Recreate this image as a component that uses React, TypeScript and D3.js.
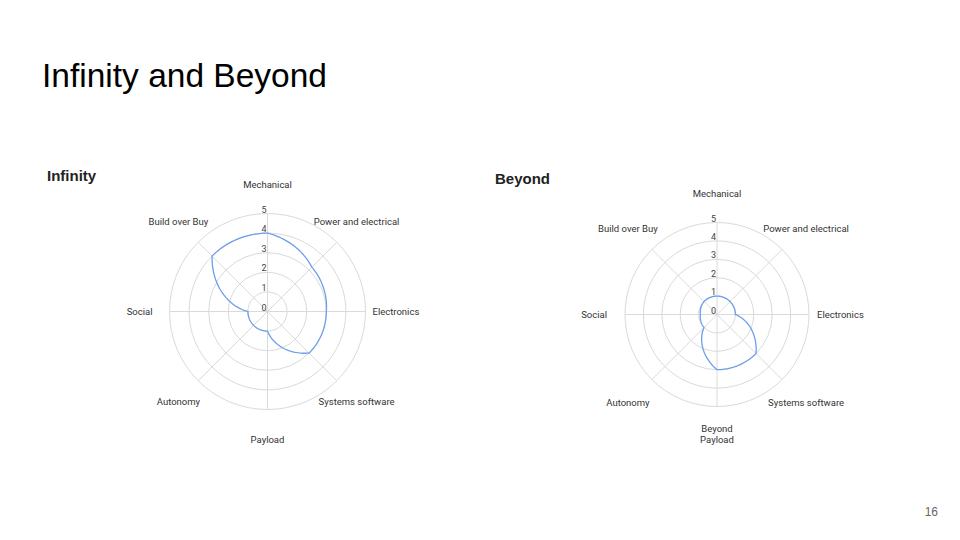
import * as d3 from "d3";
import React, { useRef, useEffect } from "react";

const W = 960;
const H = 540;

const infinityAxes = [
  "Mechanical",
  "Power and electrical",
  "Electronics",
  "Systems software",
  "Payload",
  "Autonomy",
  "Social",
  "Build over Buy",
];
const beyondAxes = [
  "Mechanical",
  "Power and electrical",
  "Electronics",
  "Systems software",
  "Beyond Payload",
  "Autonomy",
  "Social",
  "Build over Buy",
];
const infinityValues = [4, 3.2, 3, 3, 1, 1, 1, 4];
const beyondValues = [1, 1, 1, 3, 3, 1, 0.9, 1];
const ticks = [0, 1, 2, 3, 4, 5];

const FONT = "Roboto, 'Noto Sans', sans-serif";
const SANS = "Arial, 'Liberation Sans', sans-serif";

type Layout = {
  cx: number;
  cy: number;
  r: number;
  rx: number;
  ryTop: number;
  ryBottom: number;
  leftGap: number;
  rightGap: number;
};

// closed curve that joins the points in polar space (radius changes
// linearly with angle), the way the slides radar draws its lines
function curvePolarClosed(context: any) {
  let pts: [number, number][] = [];
  return {
    areaStart() {},
    areaEnd() {},
    lineStart() {
      pts = [];
    },
    point(x: number, y: number) {
      pts.push([+x, +y]);
    },
    lineEnd() {
      const n = pts.length;
      if (!n) return;
      const polar = pts.map(([x, y]) => [Math.atan2(x, -y), Math.hypot(x, y)]);
      context.moveTo(pts[0][0], pts[0][1]);
      for (let i = 0; i < n; i++) {
        const [a0, r0] = polar[i];
        const [a1, r1] = polar[(i + 1) % n];
        let da = (((a1 - a0) % (2 * Math.PI)) + 2 * Math.PI) % (2 * Math.PI);
        if (da > Math.PI) da -= 2 * Math.PI;
        const steps = 30;
        for (let s = 1; s <= steps; s++) {
          const t = s / steps;
          const a = a0 + da * t;
          const rr = r0 + (r1 - r0) * t;
          context.lineTo(rr * Math.sin(a), -rr * Math.cos(a));
        }
      }
      context.closePath();
    },
  };
}

function drawRadar(
  g: d3.Selection<SVGGElement, unknown, null, undefined>,
  axes: string[],
  values: number[],
  lay: Layout
) {
  const { cx, cy, r } = lay;
  const rScale = d3.scaleLinear().domain([0, 5]).range([0, r]);
  const angle = d3
    .scaleLinear()
    .domain([0, axes.length])
    .range([0, 2 * Math.PI]);

  const root = g.append("g").attr("transform", `translate(${cx},${cy})`);

  // rings
  root
    .selectAll("circle.ring")
    .data(ticks.slice(1))
    .enter()
    .append("circle")
    .attr("class", "ring")
    .attr("r", (d) => rScale(d))
    .attr("fill", "none")
    .attr("stroke", "#dadada")
    .attr("stroke-width", 1);

  // spokes
  root
    .selectAll("line.spoke")
    .data(axes)
    .enter()
    .append("line")
    .attr("x1", 0)
    .attr("y1", 0)
    .attr("x2", (_, i) => Math.sin(angle(i)) * r)
    .attr("y2", (_, i) => -Math.cos(angle(i)) * r)
    .attr("stroke", "#dadada")
    .attr("stroke-width", 1);

  // series line
  const line = d3
    .lineRadial<number>()
    .angle((_, i) => angle(i))
    .radius((d) => rScale(d))
    .curve(curvePolarClosed as any);

  root
    .append("path")
    .attr("d", line(values))
    .attr("fill", "none")
    .attr("stroke", "#6d9eeb")
    .attr("stroke-width", 1.3);

  // tick labels
  root
    .selectAll("text.tick")
    .data(ticks)
    .enter()
    .append("text")
    .attr("x", -3.5)
    .attr("y", (d) => -rScale(d) - 4)
    .attr("dy", "0.35em")
    .attr("text-anchor", "middle")
    .style("font-family", FONT)
    .style("font-size", "9px")
    .style("fill", "#444")
    .text((d) => d);

  // axis labels
  axes.forEach((name, i) => {
    const a = angle(i);
    const s = Math.sin(a);
    const c = Math.cos(a);
    let x = s * lay.rx;
    let y = -c * (c > 0 ? lay.ryTop : lay.ryBottom);
    let anchor = "middle";
    if (Math.abs(c) < 0.01) {
      y = 0;
      if (s > 0) {
        x = r + lay.rightGap;
        anchor = "start";
      } else {
        x = -(r + lay.leftGap);
        anchor = "end";
      }
    }
    const words = name === "Beyond Payload" ? ["Beyond", "Payload"] : [name];
    const t = root
      .append("text")
      .attr("text-anchor", anchor)
      .style("font-family", FONT)
      .style("font-size", "9.5px")
      .style("fill", "#333");
    words.forEach((w, k) => {
      t.append("tspan")
        .attr("x", x)
        .attr("y", y + (k - (words.length - 1)) * 11)
        .attr("dy", "0.35em")
        .text(w);
    });
  });
}

function App() {
  const ref = useRef<SVGSVGElement>(null);

  useEffect(() => {
    const svg = d3.select(ref.current);
    svg.selectAll("*").remove();
    svg.append("rect").attr("width", W).attr("height", H).attr("fill", "#fff");

    svg
      .append("text")
      .attr("x", 42)
      .attr("y", 87)
      .style("font-family", SANS)
      .style("font-size", "33.5px")
      .style("fill", "#000")
      .text("Infinity and Beyond");

    svg
      .append("text")
      .attr("x", 47)
      .attr("y", 181)
      .style("font-family", SANS)
      .style("font-weight", "bold")
      .style("font-size", "15px")
      .style("fill", "#222")
      .text("Infinity");

    svg
      .append("text")
      .attr("x", 495)
      .attr("y", 184)
      .style("font-family", SANS)
      .style("font-weight", "bold")
      .style("font-size", "15px")
      .style("fill", "#222")
      .text("Beyond");

    svg
      .append("text")
      .attr("x", 938)
      .attr("y", 516)
      .attr("text-anchor", "end")
      .style("font-family", SANS)
      .style("font-size", "12px")
      .style("fill", "#666")
      .text("16");

    drawRadar(svg.append("g"), infinityAxes, infinityValues, {
      cx: 267.5,
      cy: 311.5,
      r: 98,
      rx: 126,
      ryTop: 127,
      ryBottom: 128,
      leftGap: 17,
      rightGap: 7,
    });
    drawRadar(svg.append("g"), beyondAxes, beyondValues, {
      cx: 717,
      cy: 314.5,
      r: 92,
      rx: 126,
      ryTop: 121,
      ryBottom: 125,
      leftGap: 18,
      rightGap: 8,
    });
  }, []);

  return (
    <svg
      ref={ref}
      width={W}
      height={H}
      style={{ position: "absolute", left: 0, top: 0, display: "block" }}
    />
  );
}

export default App;
